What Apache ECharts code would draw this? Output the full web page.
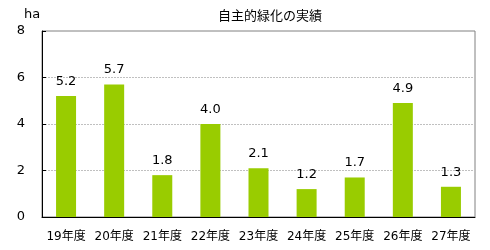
<!DOCTYPE html>
<html><head><meta charset="utf-8">
<script src="https://cdn.jsdelivr.net/npm/echarts@6/dist/echarts.min.js"></script>
<style>html,body{margin:0;padding:0;background:#fff}#c{width:490px;height:250px}</style>
</head><body><div id="c"></div>
<script>
const categories = ["19年度","20年度","21年度","22年度","23年度","24年度","25年度","26年度","27年度"];
const values = [5.2, 5.7, 1.8, 4.0, 2.1, 1.2, 1.7, 4.9, 1.3];
const titleText = "自主的緑化の実績";
const unitText = "ha";
const FONT = "'DejaVu Sans','Noto Sans CJK JP',sans-serif";
const chart = echarts.init(document.getElementById('c'), null, {renderer:'canvas'});
chart.setOption({
  animation: false,
  title: { text: titleText, left: 218, top: 10, padding: 0,
    textStyle: { fontFamily: FONT, fontSize: 13, fontWeight: 'normal', color: '#000' } },
  graphic: [{ type: 'text', left: 24, top: 8, style: { text: unitText, font: "13px " + FONT, fill: '#000' } }],
  grid: { left: 42, right: 15, top: 31, bottom: 33, show: true, borderColor: '#808080', borderWidth: 1 },
  xAxis: { type: 'category', data: categories,
    axisLine: { lineStyle: { color: '#000' } },
    axisTick: { inside: true, length: 5, interval: 0, lineStyle: { color: '#000' } },
    axisLabel: { interval: 0, color: '#000', fontFamily: FONT, fontSize: 12, margin: 14 } },
  yAxis: { type: 'value', min: 0, max: 8, interval: 2,
    axisLine: { show: true, lineStyle: { color: '#000' } },
    axisTick: { show: true, inside: true, length: 4, lineStyle: { color: '#000' } },
    axisLabel: { color: '#000', fontFamily: FONT, fontSize: 13, margin: 17 },
    splitLine: { show: true, showMinLine: false, showMaxLine: false, lineStyle: { color: '#c0c0c0', type: [2, 1] } } },
  series: [{ type: 'bar', data: values, barWidth: 20, itemStyle: { color: '#99cc00' },
    label: { show: true, position: 'top', distance: 8, color: '#000', fontFamily: FONT, fontSize: 13,
      formatter: p => p.value.toFixed(1) } }]
});
</script></body></html>
